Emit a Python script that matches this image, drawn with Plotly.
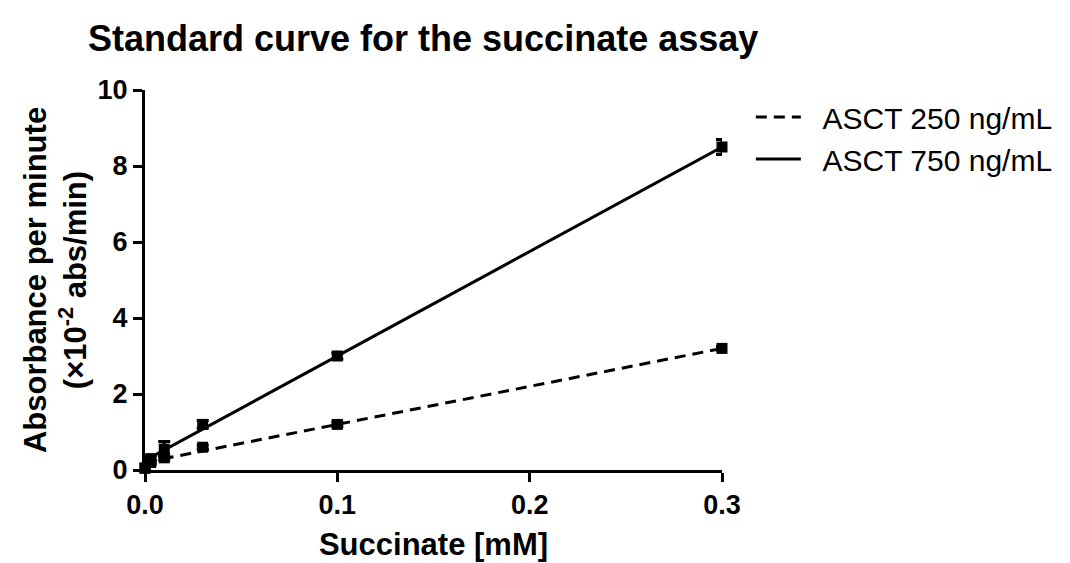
import plotly.graph_objects as go

# Data
succinate_mM = [0, 0.003, 0.01, 0.03, 0.1, 0.3]
abs_750 = [0.05, 0.3, 0.55, 1.2, 3.0, 8.5]
err_750 = [0.08, 0.06, 0.2, 0.1, 0.08, 0.2]
abs_250 = [0.05, 0.2, 0.32, 0.6, 1.2, 3.2]
err_250 = [0.05, 0.05, 0.06, 0.05, 0.06, 0.05]

# Regression line end points
fit_x = [0, 0.3]
fit_750 = [0.25, 8.5]
fit_250 = [0.2, 3.2]

series_names = ["ASCT 250 ng/mL", "ASCT 750 ng/mL"]
x_ticks = [0.0, 0.1, 0.2, 0.3]
x_tick_text = ["0.0", "0.1", "0.2", "0.3"]
y_ticks = [0, 2, 4, 6, 8, 10]

FONT = "Liberation Sans, Arial, sans-serif"
NB = "\u00a0\u00a0"

fig = go.Figure()

# Fit lines (legend entries)
fig.add_trace(go.Scatter(x=fit_x, y=fit_250, mode="lines", name=NB + series_names[0],
                         line=dict(color="black", width=3, dash="11px,7px"),
                         cliponaxis=False))
fig.add_trace(go.Scatter(x=fit_x, y=fit_750, mode="lines", name=NB + series_names[1],
                         line=dict(color="black", width=3),
                         cliponaxis=False))

# Data points with error bars
fig.add_trace(go.Scatter(x=succinate_mM, y=abs_250, mode="markers", showlegend=False,
                         marker=dict(symbol="square", size=11, color="black"),
                         error_y=dict(type="data", array=err_250, color="black",
                                      thickness=3, width=6),
                         cliponaxis=False))
fig.add_trace(go.Scatter(x=succinate_mM, y=abs_750, mode="markers", showlegend=False,
                         marker=dict(symbol="square", size=11, color="black"),
                         error_y=dict(type="data", array=err_750, color="black",
                                      thickness=3, width=6),
                         cliponaxis=False))

fig.update_layout(
    width=1070, height=563,
    paper_bgcolor="white", plot_bgcolor="white",
    margin=dict(l=145, r=344, t=90, b=93),
    font=dict(family=FONT, color="black"),
    title=dict(text="<b>Standard curve for the succinate assay</b>",
               x=88 / 1070, xref="container", xanchor="left",
               y=1 - 38 / 563, yref="container", yanchor="middle",
               font=dict(size=36, family=FONT, color="black")),
    showlegend=True,
    legend=dict(x=1.05, xanchor="left", y=1 - 1 / 380, yanchor="top",
                font=dict(size=30, family=FONT, color="black"),
                bgcolor="rgba(0,0,0,0)", tracegroupgap=0, itemwidth=45),
    xaxis=dict(range=[0, 0.3], tickvals=x_ticks, ticktext=x_tick_text,
               automargin=False,
               showgrid=False, zeroline=False, showline=True,
               linecolor="black", linewidth=3, ticks="outside",
               ticklen=9, tickwidth=3, tickcolor="black",
               tickfont=dict(size=27, family=FONT, color="black", weight="bold"),
               title=dict(text="<b>Succinate [mM]</b>", standoff=14,
                          font=dict(size=31, family=FONT, color="black"))),
    yaxis=dict(range=[0, 10], tickvals=y_ticks,
               automargin=False,
               showgrid=False, zeroline=False, showline=True,
               linecolor="black", linewidth=3, ticks="outside",
               ticklen=9, tickwidth=3, tickcolor="black",
               tickfont=dict(size=27, family=FONT, color="black", weight="bold"),
               title=dict(text="<b>Absorbance per minute<br>(×10<sup>-2</sup> abs/min)</b>",
                          standoff=2,
                          font=dict(size=31, family=FONT, color="black"))),
)

fig.write_html("out.html")
